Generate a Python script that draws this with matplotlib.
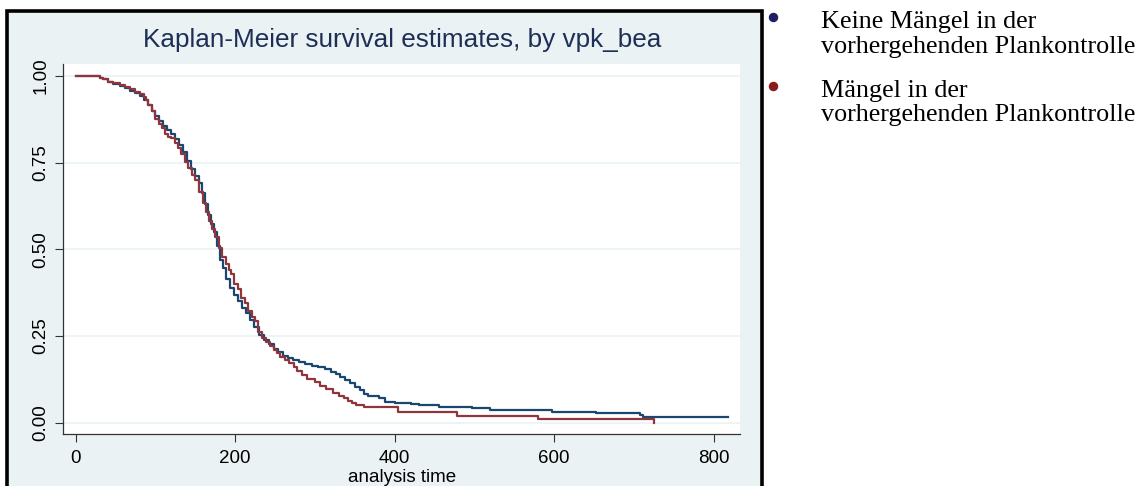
# Kaplan-Meier survival estimates by vpk_bea (Stata-style look)
import matplotlib
matplotlib.use("Agg")
import matplotlib.pyplot as plt
from matplotlib.patches import Rectangle
from matplotlib.lines import Line2D

# curve values (time, survival)
t_keine = [0, 27, 30, 34, 40, 47, 55, 62, 68, 74, 80, 85, 90, 95, 100, 105, 110, 115, 120,
           125, 130, 135, 140, 145, 150, 155, 158, 162, 166, 170, 173, 177, 181, 185, 189,
           194, 199, 204, 209, 214, 219, 224, 230, 236, 242, 248, 254, 260, 266, 272, 280,
           288, 296, 304, 312, 320, 326, 332, 338, 344, 350, 356, 361, 366, 380, 388, 400,
           420, 430, 455, 497, 520, 597, 653, 708, 711, 818]
s_keine = [1.0, 1.0, 0.995, 0.990, 0.984, 0.978, 0.972, 0.966, 0.958, 0.950, 0.941, 0.930,
           0.915, 0.900, 0.884, 0.870, 0.857, 0.845, 0.832, 0.818, 0.800, 0.780, 0.756,
           0.733, 0.712, 0.690, 0.662, 0.630, 0.600, 0.572, 0.550, 0.510, 0.470, 0.446,
           0.415, 0.388, 0.367, 0.350, 0.332, 0.316, 0.296, 0.276, 0.252, 0.238, 0.226,
           0.214, 0.204, 0.192, 0.186, 0.180, 0.175, 0.170, 0.164, 0.160, 0.154, 0.146,
           0.140, 0.132, 0.124, 0.114, 0.104, 0.094, 0.084, 0.076, 0.072, 0.060, 0.056,
           0.054, 0.051, 0.046, 0.041, 0.036, 0.032, 0.027, 0.022, 0.016, 0.016]

t_maengel = [0, 27, 30, 34, 40, 47, 55, 62, 68, 74, 80, 85, 88, 91, 95, 100, 104, 108, 112,
             116, 120, 124, 128, 132, 137, 141, 146, 150, 155, 159, 163, 167, 171, 175, 180,
             184, 188, 192, 195, 199, 203, 207, 212, 216, 221, 225, 229, 233, 238, 243, 248,
             252, 256, 262, 268, 274, 278, 284, 290, 300, 306, 314, 322, 330, 336, 342, 346,
             352, 362, 404, 478, 580, 725]
s_maengel = [1.0, 1.0, 0.995, 0.990, 0.984, 0.979, 0.973, 0.967, 0.962, 0.955, 0.947, 0.940,
             0.930, 0.915, 0.898, 0.876, 0.862, 0.850, 0.834, 0.824, 0.820, 0.808, 0.792,
             0.775, 0.752, 0.735, 0.714, 0.700, 0.665, 0.635, 0.608, 0.582, 0.560, 0.535,
             0.503, 0.478, 0.458, 0.440, 0.428, 0.400, 0.385, 0.360, 0.344, 0.322, 0.305,
             0.292, 0.262, 0.245, 0.232, 0.220, 0.210, 0.200, 0.190, 0.180, 0.171, 0.160,
             0.150, 0.138, 0.126, 0.118, 0.106, 0.096, 0.086, 0.078, 0.070, 0.062, 0.056,
             0.050, 0.044, 0.032, 0.018, 0.012, 0.0]

x_ticks = [0, 200, 400, 600, 800]
y_ticks = [0.0, 0.25, 0.5, 0.75, 1.0]
y_labels = ["0.00", "0.25", "0.50", "0.75", "1.00"]
legend_labels = ["Keine Mängel in der\nvorhergehenden Plankontrolle",
                 "Mängel in der\nvorhergehenden Plankontrolle"]

W, H = 1147, 486
bg = "#eaf2f3"
navy = "#1a476f"
maroon = "#90353b"

fig = plt.figure(figsize=(W / 100, H / 100), dpi=100)
fig.patch.set_facecolor("white")

# stata graph region with the black frame (bottom is cut off)
fig.add_artist(Rectangle((6.7 / W, -0.05), (761.5 - 6.7) / W, 1.05 - 10.7 / H,
                         transform=fig.transFigure, facecolor=bg, edgecolor="black",
                         linewidth=2.6, zorder=0))

ax = fig.add_axes([63 / W, (H - 434) / H, (740 - 63) / W, (434 - 64) / H])
ax.set_facecolor("white")
ax.set_zorder(1)

for y in y_ticks:
    ax.axhline(y, color=bg, lw=1.2, zorder=1)

ax.plot(t_keine, s_keine, drawstyle="steps-post", color=navy, lw=1.6, zorder=2)
ax.plot(t_maengel, s_maengel, drawstyle="steps-post", color=maroon, lw=1.6, zorder=3)

ax.set_xlim(-16, 833)
ax.set_ylim(-0.0326, 1.0346)
ax.set_xticks(x_ticks)
ax.set_xticklabels([str(v) for v in x_ticks], fontsize=13.5, family="Liberation Sans")
ax.set_yticks(y_ticks)
ax.set_yticklabels(y_labels, rotation=90, va="center", fontsize=13.5, family="Liberation Sans")
ax.tick_params(direction="out", length=5.8, width=0.8, color="#333333", pad=4)
ax.tick_params(axis="x", pad=6)
for side in ["top", "right"]:
    ax.spines[side].set_visible(False)
for side in ["left", "bottom"]:
    ax.spines[side].set_color("#333333")
    ax.spines[side].set_linewidth(0.9)

fig.text(402 / W, 1 - 482 / H, "analysis time", ha="center", va="baseline",
         fontsize=13.5, family="Liberation Sans")
fig.text(402 / W, 1 - 47 / H, "Kaplan-Meier survival estimates, by vpk_bea", ha="center",
         va="baseline", fontsize=18.8, family="Liberation Sans", color="#1e2f57")

# legend outside the graph box
bullet_cols = ["#1f1f66", "#8b1a1a"]
bullet_y = [17, 86]
text_y = [28, 97]
for lab, col, by, ty in zip(legend_labels, bullet_cols, bullet_y, text_y):
    fig.add_artist(Line2D([773 / W], [1 - by / H], marker="o", markersize=5.8, color=col,
                          transform=fig.transFigure))
    l1, l2 = lab.split("\n")
    fig.text(821 / W, 1 - ty / H, l1, va="baseline", ha="left", fontsize=18.8,
             family="Liberation Serif")
    fig.text(821 / W, 1 - (ty + 24.5) / H, l2, va="baseline", ha="left", fontsize=18.8,
             family="Liberation Serif")

fig.savefig("out.png", dpi=100)
